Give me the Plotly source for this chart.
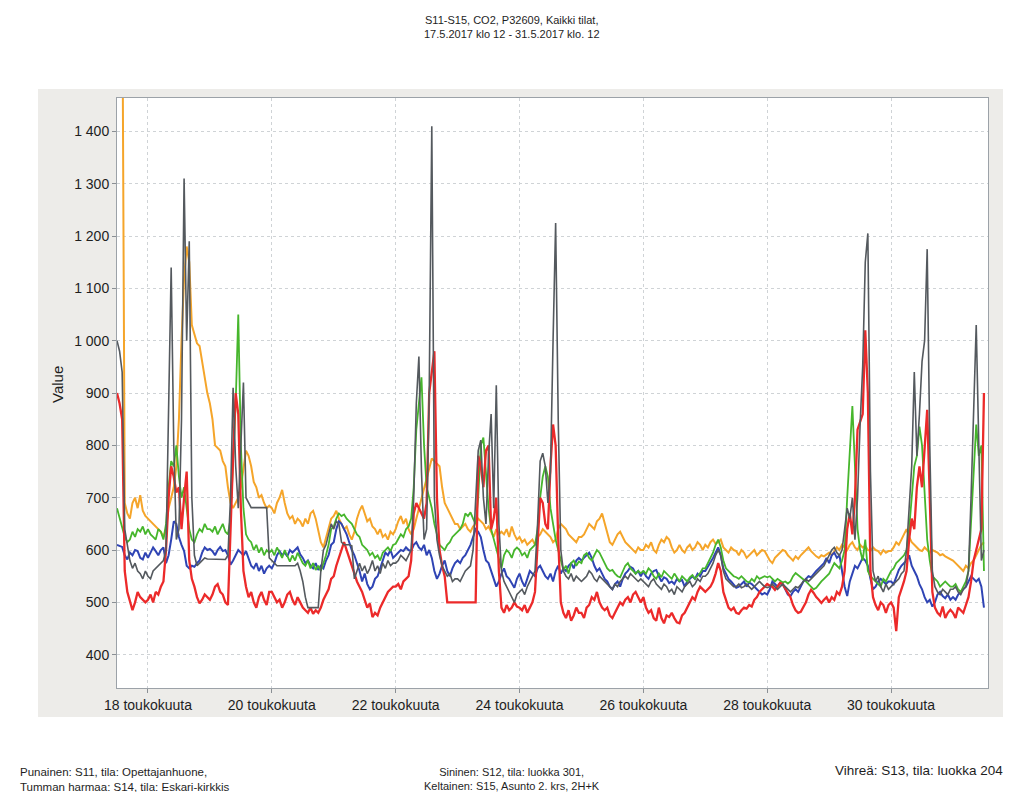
import pandas as pd
import plotly.graph_objects as go

# ---------------- data (hourly readings, one inner list per day) ----------------
DAY_STARTS = ["2017-05-17 12:00", "2017-05-18", "2017-05-19", "2017-05-20", "2017-05-21",
              "2017-05-22", "2017-05-23", "2017-05-24", "2017-05-25", "2017-05-26",
              "2017-05-27", "2017-05-28", "2017-05-29", "2017-05-30", "2017-05-31"]

S11_RED = [
    [900, 880, 850, 560, 520, 500, 485, 500, 520, 510, 505, 500],
    [505, 515, 500, 520, 515, 530, 540, 600, 700, 760, 740, 710, 720, 640, 700, 750, 580, 545, 530, 510, 498, 505, 515, 510],
    [505, 515, 530, 535, 520, 515, 500, 495, 650, 780, 900, 860, 680, 560, 530, 510, 520, 500, 490, 510, 520, 505, 495, 520],
    [520, 510, 500, 505, 490, 500, 515, 520, 505, 495, 510, 500, 490, 485, 480, 490, 478, 485, 480, 490, 505, 515, 525, 545],
    [550, 570, 585, 600, 615, 600, 585, 570, 555, 540, 530, 520, 505, 490, 498, 472, 480, 475, 490, 500, 510, 520, 525, 530],
    [530, 535, 525, 540, 545, 550, 580, 670, 690, 680, 670, 660, 690, 900, 940, 980, 700, 600, 570, 550, 500, 500, 500, 500],
    [500, 500, 500, 500, 500, 500, 500, 500, 780, 760, 720, 790, 800, 640, 660, 700, 560, 490, 480, 495, 485, 490, 500, 492],
    [490, 485, 495, 480, 490, 500, 520, 600, 700, 690, 650, 640, 760, 840, 800, 620, 500, 480, 470, 485, 465, 475, 490, 480],
    [480, 470, 490, 495, 510, 505, 520, 500, 490, 485, 490, 475, 470, 480, 490, 500, 495, 505, 510, 500, 515, 520, 510, 500],
    [510, 490, 480, 485, 470, 465, 490, 470, 460, 475, 472, 480, 470, 462, 460, 475, 480, 490, 500, 510, 505, 520, 530, 525],
    [520, 525, 530, 540, 555, 575, 560, 520, 505, 490, 485, 490, 480, 478, 485, 490, 488, 495, 492, 505, 510, 520, 525, 530],
    [535, 532, 530, 524, 530, 537, 535, 525, 518, 510, 495, 485, 480, 482, 490, 500, 515, 524, 518, 510, 505, 499, 505, 510],
    [500, 510, 505, 520, 515, 530, 560, 640, 670, 630, 700, 830, 845, 860, 1020, 900, 560, 510, 495, 485, 500, 495, 480, 495],
    [500, 490, 445, 510, 525, 540, 560, 620, 660, 640, 720, 760, 720, 800, 868, 700, 520, 490, 480, 475, 492, 470, 480, 486],
    [480, 470, 490, 485, 480, 495, 510, 540, 580, 600, 620, 640, 900],
]

S12_BLUE = [
    [610, 608, 606, 590, 582, 595, 590, 600, 598, 585, 582, 595],
    [585, 595, 605, 598, 590, 600, 605, 575, 590, 620, 655, 650, 625, 610, 598, 570, 565, 570, 568, 575, 580, 595, 605, 600],
    [602, 598, 590, 600, 606, 598, 600, 590, 572, 580, 590, 600, 595, 590, 598, 585, 570, 565, 575, 560, 570, 555, 565, 570],
    [565, 575, 590, 598, 590, 595, 588, 600, 595, 600, 605, 592, 585, 575, 580, 570, 565, 575, 562, 570, 565, 580, 590, 610],
    [615, 640, 655, 650, 640, 630, 615, 600, 590, 575, 560, 540, 555, 535, 525, 530, 545, 550, 565, 580, 595, 590, 600, 585],
    [590, 595, 600, 598, 605, 600, 598, 610, 615, 605, 600, 610, 590, 600, 585, 560, 545, 555, 570, 580, 560, 550, 565, 575],
    [580, 575, 585, 590, 600, 610, 625, 640, 635, 625, 600, 580, 575, 560, 545, 530, 540, 555, 565, 550, 545, 535, 528, 545],
    [555, 540, 530, 545, 560, 555, 550, 565, 570, 560, 550, 545, 555, 540, 560, 570, 555, 565, 560, 570, 575, 565, 580, 585],
    [580, 585, 590, 595, 585, 570, 560, 565, 555, 545, 540, 530, 525, 535, 540, 530, 545, 555, 560, 568, 565, 555, 560, 550],
    [560, 550, 545, 555, 560, 562, 550, 540, 548, 545, 537, 540, 535, 545, 540, 543, 530, 540, 545, 550, 545, 555, 550, 560],
    [560, 568, 575, 585, 595, 605, 590, 565, 555, 545, 540, 535, 528, 530, 535, 540, 530, 538, 535, 530, 525, 520, 515, 518],
    [515, 525, 540, 535, 530, 537, 535, 525, 515, 512, 520, 525, 520, 530, 540, 545, 550, 548, 555, 560, 565, 570, 575, 585],
    [575, 590, 595, 585, 590, 560, 530, 512, 540, 555, 570, 565, 575, 585, 580, 570, 545, 525, 530, 540, 545, 540, 535, 540],
    [540, 535, 550, 562, 570, 575, 580, 590, 570, 560, 550, 535, 525, 510, 500, 505, 492, 500, 515, 520, 512, 508, 515, 505],
    [510, 505, 515, 520, 525, 530, 540, 550, 545, 540, 545, 530, 490],
]

S13_GREEN = [
    [680, 660, 640, 625, 615, 620, 635, 625, 640, 635, 645, 630],
    [640, 630, 625, 620, 640, 635, 620, 650, 720, 770, 760, 800, 740, 700, 720, 680, 640, 620, 615, 630, 640, 635, 650, 640],
    [640, 635, 645, 630, 640, 650, 635, 630, 660, 760, 880, 1050, 800, 680, 630, 620, 615, 600, 610, 595, 605, 590, 600, 595],
    [600, 590, 605, 595, 585, 600, 590, 578, 590, 580, 595, 585, 575, 570, 580, 565, 575, 562, 570, 560, 575, 590, 610, 640],
    [645, 660, 670, 665, 668, 660, 655, 650, 640, 630, 625, 610, 605, 600, 590, 595, 585, 590, 580, 595, 600, 605, 598, 610],
    [612, 620, 630, 625, 640, 645, 660, 720, 830, 880, 930, 800, 720, 700, 680, 650, 630, 610, 605, 600, 610, 615, 625, 630],
    [635, 640, 650, 670, 665, 672, 660, 650, 700, 800, 815, 740, 680, 640, 620, 600, 580, 565, 590, 600, 595, 585, 600, 605],
    [600, 590, 595, 585, 600, 605, 610, 640, 700, 740, 760, 740, 680, 650, 620, 600, 580, 562, 570, 555, 575, 580, 570, 578],
    [575, 590, 594, 585, 580, 590, 600, 595, 585, 575, 565, 560, 562, 555, 550, 548, 560, 570, 575, 565, 560, 555, 560, 556],
    [560, 555, 565, 560, 550, 545, 555, 548, 560, 555, 550, 545, 555, 548, 540, 550, 545, 540, 548, 552, 545, 550, 556, 565],
    [565, 575, 585, 595, 610, 620, 605, 580, 565, 560, 555, 550, 548, 545, 550, 545, 540, 538, 545, 540, 550, 545, 548, 550],
    [548, 550, 545, 540, 545, 542, 538, 540, 536, 540, 550, 556, 552, 548, 545, 540, 535, 530, 525, 528, 535, 540, 545, 550],
    [555, 565, 575, 570, 565, 580, 600, 700, 780, 875, 760, 640, 600, 580, 620, 560, 550, 545, 540, 535, 530, 545, 540, 550],
    [560, 565, 575, 580, 585, 590, 600, 640, 700, 760, 780, 836, 800, 700, 620, 580, 550, 545, 540, 530, 535, 540, 535, 530],
    [530, 535, 525, 520, 530, 540, 560, 650, 760, 840, 780, 800, 560],
]

S14_GREY = [
    [1000, 980, 940, 640, 610, 580, 565, 575, 560, 555, 545, 560],
    [550, 545, 560, 565, 570, 575, 580, 600, 900, 1140, 800, 620, 640, 850, 1310, 1000, 1190, 700, 590, 570, 575, 580, 585, 583],
    [583, 582, 582, 582, 582, 582, 582, 590, 700, 910, 760, 680, 800, 920, 700, 690, 681, 681, 681, 681, 681, 681, 681, 585],
    [580, 575, 570, 570, 570, 570, 570, 570, 570, 570, 575, 560, 540, 510, 490, 490, 490, 490, 490, 560, 600, 610, 630, 650],
    [640, 655, 650, 615, 610, 610, 610, 608, 545, 560, 575, 560, 570, 555, 565, 580, 560, 570, 555, 575, 565, 580, 570, 575],
    [575, 580, 590, 585, 580, 590, 600, 700, 880, 970, 750, 620, 640, 900, 1410, 700, 620, 590, 570, 560, 550, 555, 540, 545],
    [545, 540, 550, 560, 565, 570, 600, 700, 790, 810, 700, 650, 780, 860, 680, 915, 650, 560, 540, 530, 520, 510, 500, 515],
    [520, 525, 515, 530, 540, 550, 560, 650, 770, 785, 760, 690, 750, 1000, 1225, 850, 600, 560, 550, 545, 555, 540, 550, 545],
    [540, 545, 550, 560, 555, 545, 540, 550, 545, 540, 535, 530, 525, 535, 530, 540, 545, 550, 545, 555, 550, 545, 540, 545],
    [540, 535, 530, 540, 545, 535, 530, 525, 535, 530, 520, 525, 515, 530, 525, 520, 530, 535, 540, 530, 535, 545, 540, 550],
    [550, 555, 565, 575, 590, 600, 590, 560, 545, 540, 535, 530, 530, 535, 528, 530, 535, 530, 525, 530, 535, 540, 535, 530],
    [528, 530, 535, 530, 525, 530, 535, 530, 525, 520, 525, 530, 528, 535, 540, 545, 540, 545, 550, 555, 560, 565, 570, 580],
    [590, 600, 605, 595, 590, 600, 640, 680, 660, 700, 620, 700, 840, 950, 1150, 1205, 750, 560, 540, 550, 530, 520, 535, 525],
    [530, 535, 540, 545, 555, 560, 600, 680, 760, 940, 780, 860, 960, 1000, 1175, 800, 560, 530, 520, 515, 525, 520, 515, 525],
    [525, 530, 520, 515, 525, 530, 560, 700, 860, 1030, 800, 580, 600],
]

S15_ORANGE = [
    [1800, 1800, 1750, 690, 670, 660, 690, 700, 680, 705, 675, 665],
    [660, 655, 650, 645, 640, 635, 625, 640, 680, 700, 720, 760, 850, 1000, 1120, 1180, 1150, 1030, 1010, 995, 990, 960, 930, 900],
    [880, 850, 800, 795, 790, 770, 760, 720, 690, 680, 690, 700, 720, 760, 790, 780, 760, 730, 720, 700, 705, 690, 680, 685],
    [680, 670, 690, 700, 715, 690, 670, 660, 665, 650, 660, 655, 645, 660, 650, 670, 675, 660, 640, 615, 605, 625, 640, 660],
    [665, 675, 660, 650, 640, 645, 630, 620, 635, 660, 675, 685, 670, 655, 660, 645, 640, 630, 640, 625, 630, 620, 635, 630],
    [640, 655, 665, 650, 660, 640, 630, 640, 660, 680, 700, 720, 740, 760, 775, 770, 765, 760, 720, 690, 680, 670, 660, 650],
    [650, 640, 645, 650, 640, 635, 645, 650, 660, 655, 650, 640, 645, 635, 625, 640, 630, 635, 630, 640, 625, 645, 630, 620],
    [625, 615, 620, 610, 615, 620, 610, 625, 630, 640, 635, 630, 625, 615, 620, 640, 650, 645, 640, 630, 625, 620, 615, 625],
    [625, 630, 640, 650, 645, 640, 655, 660, 670, 650, 630, 615, 610, 620, 630, 635, 625, 615, 610, 605, 600, 595, 605, 600],
    [600, 610, 605, 615, 600, 595, 610, 620, 615, 625, 620, 605, 595, 600, 610, 600, 595, 605, 610, 600, 605, 615, 610, 600],
    [610, 605, 615, 620, 612, 615, 620, 605, 600, 595, 605, 600, 598, 590, 600, 595, 585, 590, 595, 600, 590, 595, 600, 598],
    [590, 580, 575, 585, 590, 595, 600, 598, 590, 585, 580, 588, 583, 590, 595, 600, 605, 598, 592, 588, 585, 590, 588, 592],
    [595, 590, 598, 605, 600, 610, 605, 600, 610, 615, 605, 600, 610, 605, 608, 600, 598, 605, 600, 598, 592, 600, 595, 598],
    [598, 605, 615, 610, 620, 630, 640, 625, 615, 610, 605, 600, 598, 605, 600, 595, 600, 598, 595, 590, 592, 588, 585, 582],
    [580, 575, 570, 565, 560, 570, 565, 575, 580, 590, 600, 610, 615],
]

X_TICK_DATES = ["2017-05-18", "2017-05-20", "2017-05-22", "2017-05-24",
                "2017-05-26", "2017-05-28", "2017-05-30"]
X_TICK_LABELS = ["18 toukokuuta", "20 toukokuuta", "22 toukokuuta", "24 toukokuuta",
                 "26 toukokuuta", "28 toukokuuta", "30 toukokuuta"]

TITLE = "S11-S15, CO2, P32609, Kaikki tilat,<br>17.5.2017 klo 12 - 31.5.2017 klo. 12"
NOTE_LEFT = "Punainen: S11, tila: Opettajanhuone,<br>Tumman harmaa: S14, tila: Eskari-kirkkis"
NOTE_MID = "Sininen: S12, tila: luokka 301,<br>Keltainen: S15, Asunto 2. krs, 2H+K"
NOTE_RIGHT = "Vihreä: S13, tila: luokka 204"


def flatten(days):
    xs, ys = [], []
    for start, vals in zip(DAY_STARTS, days):
        t0 = pd.Timestamp(start)
        for k, v in enumerate(vals):
            xs.append(t0 + pd.Timedelta(hours=k))
            ys.append(v)
    return xs, ys


FONT = "Liberation Sans, Arial, sans-serif"
OFF = 8                      # page body margin offset
W, H = 1007, 784             # figure size (fits inside page with body margins)
PL, PR, PT, PB = 117, 988, 98, 688   # plot area in page pixels


def px(x):
    return (x - PL) / (PR - PL)


def py(y):
    return (PB - y) / (PB - PT)


fig = go.Figure()
series = [
    (S15_ORANGE, "#f5a52a", 2.0),
    (S12_BLUE, "#2f44b4", 2.0),
    (S13_GREEN, "#46b62c", 1.8),
    (S11_RED, "#ec2a2a", 2.3),
    (S14_GREY, "#54595e", 1.6),
]
for data, color, width in series:
    xs, ys = flatten(data)
    fig.add_trace(go.Scatter(x=xs, y=ys, mode="lines",
                             line=dict(color=color, width=width),
                             showlegend=False, hoverinfo="skip"))

axis_common = dict(
    showgrid=True, gridcolor="#cfd3d6", griddash="3px,3px", gridwidth=1,
    showline=True, linecolor="#9ca2a8", linewidth=1, mirror=True,
    ticks="outside", ticklen=4, tickcolor="#8a8f94",
    tickfont=dict(family=FONT, size=14, color="#1e1e1e"),
    zeroline=False,
)

fig.update_xaxes(type="date",
                 range=["2017-05-17 12:00", "2017-05-31 13:34"],
                 tickvals=X_TICK_DATES, ticktext=X_TICK_LABELS,
                 **axis_common)
fig.update_yaxes(range=[336.4, 1463.8], tick0=400, dtick=100,
                 separatethousands=True, **axis_common)

shapes = [
    dict(type="rect", xref="paper", yref="paper",
         x0=px(38), x1=px(1003), y0=py(717), y1=py(89),
         fillcolor="#edece9", line=dict(width=0), layer="below"),
    dict(type="rect", xref="paper", yref="paper",
         x0=0, x1=1, y0=0, y1=1,
         fillcolor="white", line=dict(width=0), layer="below"),
]

annotations = [
    dict(text=TITLE, xref="paper", yref="paper", x=px(512), y=py(27),
         xanchor="center", yanchor="middle", showarrow=False, align="center",
         font=dict(family=FONT, size=11, color="#1e1e1e")),
    dict(text="Value", xref="paper", yref="paper", x=px(57), y=py(385),
         xanchor="center", yanchor="middle", showarrow=False, textangle=-90,
         font=dict(family=FONT, size=15, color="#1e1e1e")),
    dict(text=NOTE_LEFT, xref="paper", yref="paper", x=px(18), y=py(779),
         xanchor="left", yanchor="middle", showarrow=False, align="left",
         font=dict(family=FONT, size=11.5, color="#1e1e1e")),
    dict(text=NOTE_MID, xref="paper", yref="paper", x=px(512), y=py(779),
         xanchor="center", yanchor="middle", showarrow=False, align="center",
         font=dict(family=FONT, size=11, color="#1e1e1e")),
    dict(text=NOTE_RIGHT, xref="paper", yref="paper", x=px(1005), y=py(771),
         xanchor="right", yanchor="middle", showarrow=False, align="right",
         font=dict(family=FONT, size=13.5, color="#1e1e1e")),
]

fig.update_layout(
    width=W, height=H,
    margin=dict(l=PL - OFF, r=W - (PR - OFF), t=PT - OFF, b=H - (PB - OFF), pad=0),
    paper_bgcolor="white", plot_bgcolor="white",
    separators=". ",
    shapes=shapes, annotations=annotations,
    showlegend=False,
)

fig.write_html("out.html")
